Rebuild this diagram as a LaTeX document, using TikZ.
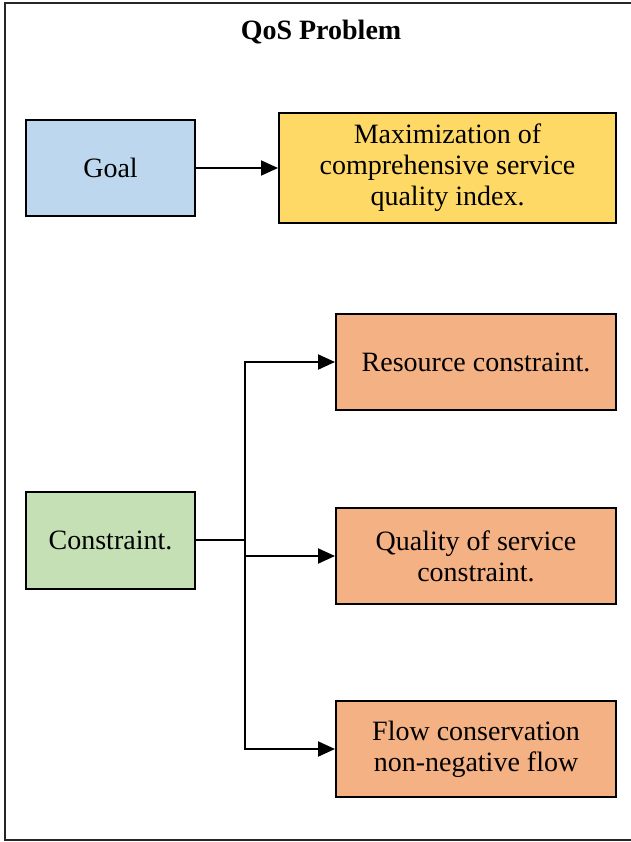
\documentclass[tikz,border=0pt]{standalone}
\usepackage{fontspec}
\setmainfont{Liberation Serif}
\usetikzlibrary{arrows.meta}
\definecolor{goalblue}{HTML}{BDD7EE}
\definecolor{maxyellow}{HTML}{FFD966}
\definecolor{congreen}{HTML}{C5E0B4}
\definecolor{resorange}{HTML}{F4B183}
\begin{document}
\begin{tikzpicture}[x=0.5pt,y=-0.5pt,font=\fontsize{14}{15.5}\selectfont,
  box/.style={draw,line width=1pt,align=center,inner sep=2pt},
  arr/.style={line width=1pt,-{Triangle[length=8.5pt,width=7.5pt]}}]
\clip (0,0) rectangle (631,842);
\draw[line width=1pt,black!85] (5,3) rectangle (660,840);
\node[font=\fontsize{14}{15.5}\selectfont\bfseries] (title) at (321,32) {QoS Problem};
% goal row
\node[box,fill=goalblue,minimum width=84.5pt,minimum height=48pt] (goal) at (110.5,168) {Goal};
\node[box,fill=maxyellow,minimum width=168.5pt,minimum height=55pt] (max) at (447.5,168) {Maximization of\\comprehensive service\\quality index.};
\draw[arr] (goal) -- (max);
% constraints
\node[box,fill=congreen,minimum width=84.5pt,minimum height=48.5pt] (con) at (110.5,540) {Constraint.};
\node[box,fill=resorange,minimum width=140pt,minimum height=48pt] (res) at (476,362) {Resource constraint.};
\node[box,fill=resorange,minimum width=140pt,minimum height=48pt] (qos) at (476,556) {Quality of service\\constraint.};
\node[box,fill=resorange,minimum width=140pt,minimum height=48pt] (flow) at (476,749) {Flow conservation\\non-negative flow};
\coordinate (br) at (245,540);
\draw[line width=1pt] (con) -- (br);
\draw[arr] (br) |- (res);
\draw[arr] (br) |- (qos);
\draw[arr] (br) |- (flow);
\end{tikzpicture}
\end{document}
